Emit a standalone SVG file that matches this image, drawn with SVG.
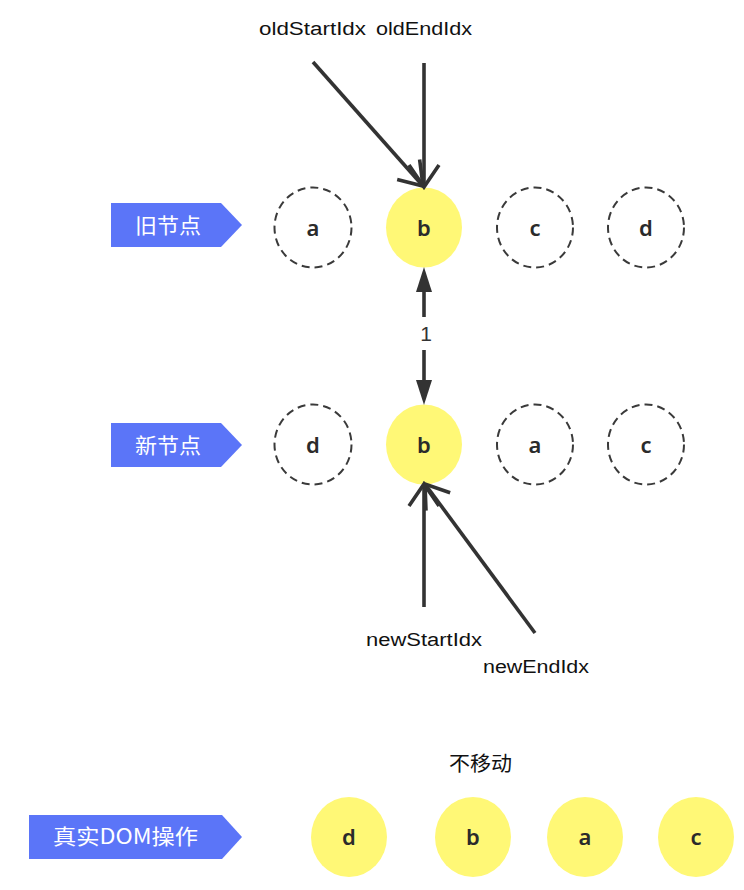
<svg xmlns="http://www.w3.org/2000/svg" width="744" height="890" viewBox="0 0 744 890">
<style>
.tag{fill:#5B75F8}
.tagt{fill:#ffffff;font-family:"Noto Sans CJK SC","Liberation Sans",sans-serif;font-size:21px}
.dash{fill:#ffffff;stroke:#3a3a3a;stroke-width:2;stroke-dasharray:8 5}
.yel{fill:#FFF876}
.lt{fill:#2b2b2b;font-family:"Noto Sans","Liberation Sans",sans-serif;font-size:22px;font-weight:600;text-anchor:middle}
.idx{fill:#111111;font-family:"Liberation Sans","Noto Sans",sans-serif;font-size:18px}
.ln{stroke:#333333;stroke-width:3.6;fill:none}
.cjk{fill:#111111;font-family:"Noto Sans CJK SC",sans-serif;font-size:20px}
</style>
<defs>
<marker id="open" markerUnits="userSpaceOnUse" markerWidth="30" markerHeight="30" refX="0" refY="0" orient="auto" overflow="visible">
<path d="M-22,-15 L0,0 L-22,15" fill="none" stroke="#333333" stroke-width="3.6"/>
</marker>
<marker id="fill" markerUnits="userSpaceOnUse" markerWidth="30" markerHeight="20" refX="0" refY="8" orient="auto" overflow="visible">
<path d="M0,0 L25,8 L0,16 Z" fill="#333333"/>
</marker>
</defs>

<g id="tag-old">
<path class="tag" d="M111,203 H221 L242,225 L221,247 H111 Z"/>
<text class="tagt" x="135" y="233" textLength="66" lengthAdjust="spacingAndGlyphs">旧节点</text>
</g>
<g id="tag-new">
<path class="tag" d="M111,423 H221 L242,445 L221,467 H111 Z"/>
<text class="tagt" x="135" y="453" textLength="66" lengthAdjust="spacingAndGlyphs">新节点</text>
</g>
<g id="tag-dom">
<path class="tag" d="M29,815 H222 L242,837 L222,859 H29 Z"/>
<text class="tagt" x="53" y="844" textLength="145" lengthAdjust="spacingAndGlyphs">真实DOM操作</text>
</g>

<g id="old-a"><ellipse class="dash" cx="313" cy="227.5" rx="38.5" ry="40"/><text class="lt" x="313" y="236">a</text></g>
<g id="old-b"><ellipse class="yel" cx="424" cy="227.5" rx="38" ry="40"/><text class="lt" x="424" y="236">b</text></g>
<g id="old-c"><ellipse class="dash" cx="535" cy="227.5" rx="38" ry="40"/><text class="lt" x="535" y="236">c</text></g>
<g id="old-d"><ellipse class="dash" cx="646" cy="227.5" rx="38" ry="40"/><text class="lt" x="646" y="236">d</text></g>

<g id="new-d"><ellipse class="dash" cx="313" cy="444.5" rx="38.5" ry="40"/><text class="lt" x="313" y="453">d</text></g>
<g id="new-b"><ellipse class="yel" cx="424" cy="444.5" rx="38" ry="40"/><text class="lt" x="424" y="453">b</text></g>
<g id="new-a"><ellipse class="dash" cx="535" cy="444.5" rx="38" ry="40"/><text class="lt" x="535" y="453">a</text></g>
<g id="new-c"><ellipse class="dash" cx="646" cy="444.5" rx="38" ry="40"/><text class="lt" x="646" y="453">c</text></g>

<g id="dom-d"><ellipse class="yel" cx="349" cy="837" rx="38" ry="40"/><text class="lt" x="349" y="845">d</text></g>
<g id="dom-b"><ellipse class="yel" cx="473" cy="837" rx="38" ry="40"/><text class="lt" x="473" y="845">b</text></g>
<g id="dom-a"><ellipse class="yel" cx="585" cy="837" rx="38" ry="40"/><text class="lt" x="585" y="845">a</text></g>
<g id="dom-c"><ellipse class="yel" cx="696" cy="837" rx="38" ry="40"/><text class="lt" x="696" y="845">c</text></g>

<g id="connectors">
<line class="ln" x1="313" y1="62" x2="423" y2="186" marker-end="url(#open)"/>
<line class="ln" x1="424" y1="63" x2="424" y2="187" marker-end="url(#open)"/>
<line class="ln" x1="424" y1="317" x2="424" y2="292" marker-end="url(#fill)"/>
<line class="ln" x1="424" y1="350" x2="424" y2="380" marker-end="url(#fill)"/>
<line class="ln" x1="424" y1="607" x2="424" y2="484" marker-end="url(#open)"/>
<line class="ln" x1="535" y1="633" x2="425" y2="484" marker-end="url(#open)"/>
</g>

<g id="labels">
<text class="idx" x="259" y="35" textLength="107" lengthAdjust="spacingAndGlyphs">oldStartIdx</text>
<text class="idx" x="376" y="35" textLength="96" lengthAdjust="spacingAndGlyphs">oldEndIdx</text>
<text class="idx" x="366" y="646" textLength="116" lengthAdjust="spacingAndGlyphs">newStartIdx</text>
<text class="idx" x="483" y="673" textLength="106" lengthAdjust="spacingAndGlyphs">newEndIdx</text>
<text style="fill:#333333;font-family:'Liberation Sans',sans-serif;font-size:21px" x="426" y="341" text-anchor="middle">1</text>
<text class="cjk" x="449" y="771" textLength="63" lengthAdjust="spacingAndGlyphs">不移动</text>
</g>
</svg>
